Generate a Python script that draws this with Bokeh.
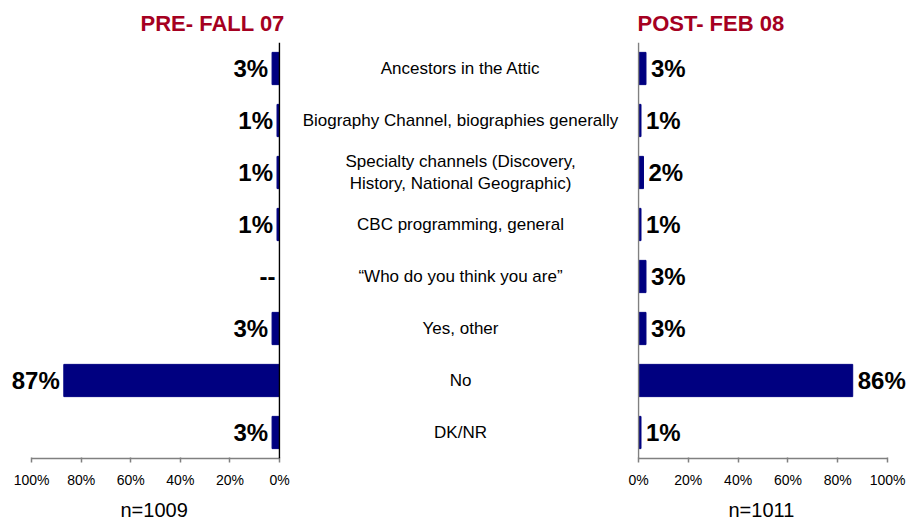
from bokeh.plotting import figure
from bokeh.models import (ColumnDataSource, FactorRange, Range1d, Span, Title,
                          FixedTicker, PrintfTickFormatter)
from bokeh.layouts import row
from bokeh.core.properties import value
from bokeh.embed import file_html
from bokeh.resources import INLINE

categories = [
    "Ancestors in the Attic",
    "Biography Channel, biographies generally",
    "Specialty channels (Discovery,\nHistory, National Geographic)",
    "CBC programming, general",
    "\u201cWho do you think you are\u201d",
    "Yes, other",
    "No",
    "DK/NR",
]
pre_values = [3, 1, 1, 1, 0, 3, 87, 3]
post_values = [3, 1, 2, 1, 3, 3, 86, 1]
pre_title = "PRE- FALL 07"
post_title = "POST- FEB 08"
pre_n = "n=1009"
post_n = "n=1011"
tick_values = [0, 20, 40, 60, 80, 100]

BAR = "#000080"
RED = "#A50021"
SANS = "Liberation Sans"

def lbl(v):
    return f"{v}%" if v > 0 else "--"

src = ColumnDataSource(dict(
    cat=categories,
    pre=pre_values,
    post=post_values,
    pre_lbl=[lbl(v) for v in pre_values],
    post_lbl=[lbl(v) for v in post_values],
))

rev = list(reversed(categories))
FH = 416
TOP = 42
BOTTOM = 66


def style_xaxis(p):
    ax = p.xaxis[0]
    ax.ticker = FixedTicker(ticks=tick_values)
    ax.formatter = PrintfTickFormatter(format="%d%%")
    ax.bounds = (0, 100)
    ax.axis_line_color = "#808080"
    ax.axis_line_width = 1.5
    ax.major_tick_line_color = "#808080"
    ax.major_tick_line_width = 1.5
    ax.major_tick_in = 1
    ax.major_tick_out = 4
    ax.minor_tick_line_color = None
    ax.major_label_text_font = SANS
    ax.major_label_text_font_size = "14px"
    ax.major_label_text_color = "black"
    ax.major_label_standoff = 9
    p.xgrid.grid_line_color = None
    p.ygrid.grid_line_color = None
    p.outline_line_color = None


# ---- left panel (reversed x) ----
left = figure(y_range=FactorRange(factors=rev), x_range=Range1d(108.5, -0.4),
              frame_width=270, frame_height=FH, min_border_left=10, min_border_right=14,
              min_border_top=TOP, min_border_bottom=BOTTOM, y_axis_location=None,
              output_backend="svg", toolbar_location=None)
style_xaxis(left)
left.hbar(y="cat", left=0, right="pre", height=0.62, color=BAR, source=src)
left.text(x="pre", y="cat", text="pre_lbl", source=src, text_align="right",
          text_baseline="middle", x_offset=-4, text_font=value(SANS),
          text_font_style="bold", text_font_size="24px", text_color="black")
left.add_layout(Span(location=0, dimension="height", line_color="black", line_width=1.5))
left.add_layout(Title(text=pre_title, align="left", offset=130, text_font=SANS,
                      text_font_size="22px", text_font_style="bold", text_color=RED,
                      standoff=13), "above")
left.add_layout(Title(text=pre_n, align="left", offset=110, text_font=SANS,
                      text_font_size="20px", text_font_style="normal", text_color="black",
                      standoff=13), "below")

# ---- center labels ----
center = figure(y_range=left.y_range, x_range=Range1d(-166, 165),
                frame_width=331, frame_height=FH, min_border_left=0, min_border_right=0,
                min_border_top=TOP, min_border_bottom=BOTTOM,
                x_axis_location=None, y_axis_location=None,
                output_backend="svg", toolbar_location=None)
center.xgrid.grid_line_color = None
center.ygrid.grid_line_color = None
center.outline_line_color = None
center.text(x=0, y="cat", text="cat", source=src, text_align="center",
            text_baseline="middle", text_font=value(SANS), text_font_size="17px",
            text_color="black", text_line_height=1.2)

# ---- right panel ----
right = figure(y_range=left.y_range, x_range=Range1d(-0.4, 108.4),
               frame_width=271, frame_height=FH, min_border_left=12, min_border_right=0,
               min_border_top=TOP, min_border_bottom=BOTTOM, y_axis_location=None,
               output_backend="svg", toolbar_location=None)
style_xaxis(right)
right.hbar(y="cat", left=0, right="post", height=0.62, color=BAR, source=src)
right.text(x="post", y="cat", text="post_lbl", source=src, text_align="left",
           text_baseline="middle", x_offset=5, text_font=value(SANS),
           text_font_style="bold", text_font_size="24px", text_color="black")
right.add_layout(Span(location=0, dimension="height", line_color="#808080", line_width=1.5))
right.add_layout(Title(text=post_title, align="left", offset=0, text_font=SANS,
                       text_font_size="22px", text_font_style="bold", text_color=RED,
                       standoff=13), "above")
right.add_layout(Title(text=post_n, align="left", offset=91, text_font=SANS,
                       text_font_size="20px", text_font_style="normal", text_color="black",
                       standoff=13), "below")

layout = row(left, center, right, spacing=0)
open("out.html", "w").write(file_html(layout, INLINE))
